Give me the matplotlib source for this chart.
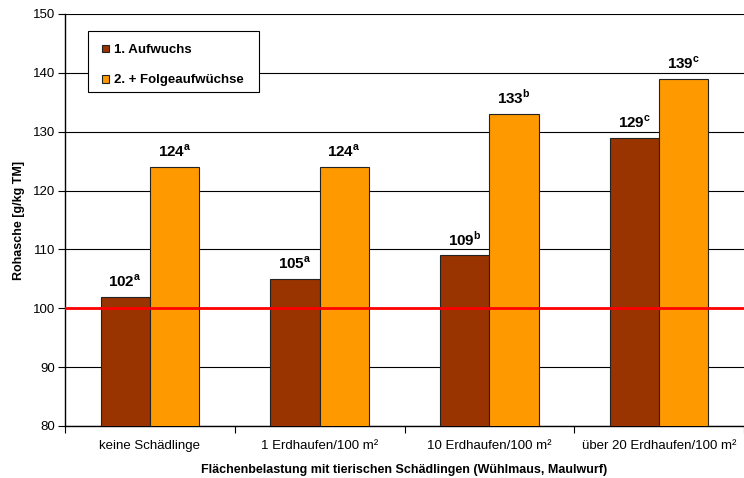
import numpy as np
import matplotlib
matplotlib.use("Agg")
import matplotlib.pyplot as plt
from matplotlib.patches import Rectangle

plt.rcParams["font.family"] = ["Liberation Sans", "DejaVu Sans"]
plt.rcParams["mathtext.fontset"] = "custom"
plt.rcParams["mathtext.rm"] = "Liberation Sans"
plt.rcParams["mathtext.bf"] = "Liberation Sans:bold"

categories = ["keine Schädlinge", "1 Erdhaufen/100 m²", "10 Erdhaufen/100 m²", "über 20 Erdhaufen/100 m²"]
series_names = ["1. Aufwuchs", "2. + Folgeaufwüchse"]
first_growth = [102, 105, 109, 129]
later_growth = [124, 124, 133, 139]
first_letters = ["a", "a", "b", "c"]
later_letters = ["a", "a", "b", "c"]

W, H = 744, 478
fig = plt.figure(figsize=(W / 100, H / 100), dpi=100)
ax = fig.add_axes([65 / W, 52 / H, 679 / W, 412 / H])

x = np.arange(len(categories))
w = 0.29
b1 = ax.bar(x - w / 2, first_growth, w, bottom=0, color="#993300", edgecolor="#222222",
            linewidth=0.8, label=series_names[0], zorder=3)
b2 = ax.bar(x + w / 2, later_growth, w, bottom=0, color="#FF9900", edgecolor="#222222",
            linewidth=0.8, label=series_names[1], zorder=3)

for bars, vals, letters in [(b1, first_growth, first_letters), (b2, later_growth, later_letters)]:
    for rect, v, l in zip(bars, vals, letters):
        ax.annotate(f"{v}" + r"$^{\mathregular{" + l + "}}$",
                    (rect.get_x() + rect.get_width() / 2, v),
                    xytext=(0, 5), textcoords="offset points",
                    ha="center", va="bottom", fontsize=11, fontweight="bold")

ax.axhline(100, color="#FF0000", linewidth=2, zorder=4)

ax.set_xlim(-0.5, len(categories) - 0.5)
ax.set_ylim(80, 150)
ax.set_yticks(np.arange(80, 151, 10))
ax.set_xticks(np.arange(-0.5, len(categories), 1.0), minor=False)
ax.set_xticklabels([])
ax.set_xticks(x, minor=True)
ax.set_xticklabels(categories, minor=True)
ax.tick_params(axis="x", which="minor", length=0, pad=10, labelsize=9.5)
ax.tick_params(axis="x", which="major", length=5, direction="out")
ax.tick_params(axis="y", length=5, direction="out", labelsize=9.5, pad=2)
ax.yaxis.grid(True, color="black", linewidth=0.8, zorder=0)
ax.set_axisbelow(True)

for s in ["top", "right"]:
    ax.spines[s].set_visible(False)
ax.spines["left"].set_linewidth(1.0)
ax.spines["bottom"].set_linewidth(1.0)

ax.set_ylabel("Rohasche [g/kg TM]", fontsize=9, fontweight="bold", labelpad=6)
ax.set_xlabel("Flächenbelastung mit tierischen Schädlingen (Wühlmaus, Maulwurf)",
              fontsize=9, fontweight="bold", labelpad=9)

# legend box drawn separately so the padding matches the original
box = Rectangle((88 / W, 1 - 92 / H), 171 / W, 61 / H, transform=fig.transFigure,
                facecolor="white", edgecolor="black", linewidth=0.8, zorder=4.5)
ax.add_patch(box)
leg = ax.legend(loc="upper left", bbox_to_anchor=(102 / W, 1 - 44 / H),
                bbox_transform=fig.transFigure, frameon=False,
                prop={"weight": "bold", "size": 9.5}, handlelength=0.5, handleheight=0.5,
                handletextpad=0.4, labelspacing=1.4, borderpad=0, borderaxespad=0)
leg.set_zorder(5)

fig.savefig("out.png", dpi=100)
